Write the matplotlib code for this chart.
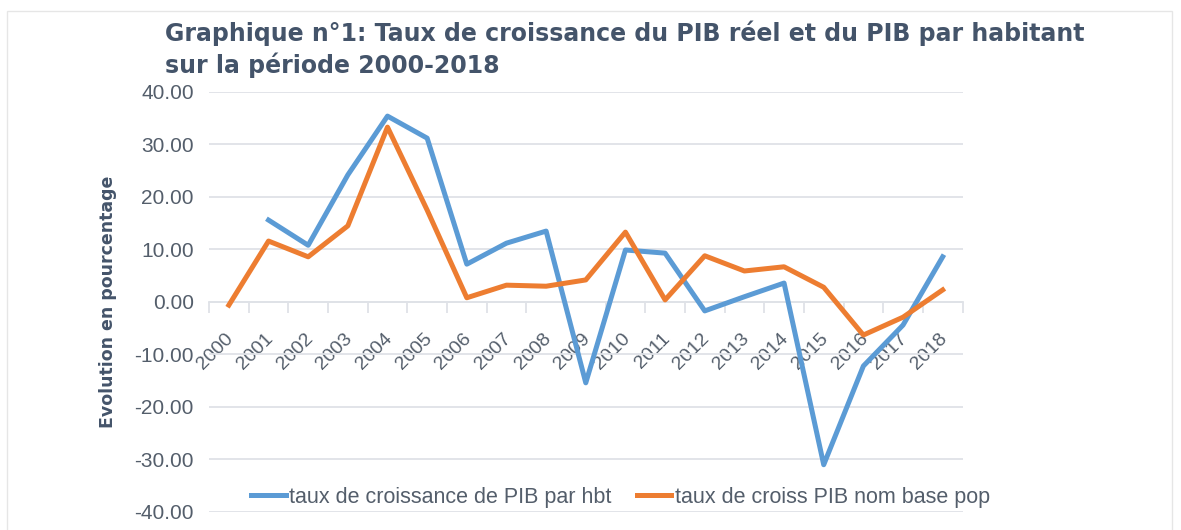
import matplotlib.pyplot as plt
import matplotlib.transforms as mtransforms
from matplotlib.patches import Rectangle

# data
years = [str(y) for y in range(2000, 2019)]
pib_hbt = [None, 15.6, 10.8, 24.2, 35.4, 31.2, 7.2, 11.2, 13.5, -15.4,
           9.9, 9.3, -1.7, 1.0, 3.6, -31.0, -12.2, -4.4, 8.6]
pib_nom = [-0.6, 11.6, 8.6, 14.5, 33.3, 17.5, 0.8, 3.2, 3.0, 4.2,
           13.3, 0.4, 8.8, 5.9, 6.7, 2.8, -6.3, -2.9, 2.3]
yticks = [-40, -30, -20, -10, 0, 10, 20, 30, 40]

blue = '#5B9BD5'
orange = '#ED7D31'
text_col = '#44546A'
tick_col = '#545E6B'
grid_col = '#DFE2E7'
sans = ['Liberation Sans', 'DejaVu Sans']

fig = plt.figure(figsize=(11.81, 5.30), dpi=100)
fig.patches.append(Rectangle((0.006, -0.01), 0.986, 0.99, transform=fig.transFigure,
                             fill=False, edgecolor='#E6E6E6', linewidth=1))
ax = fig.add_axes([0.177, 0.034, 0.638, 0.7925])

x = list(range(len(years)))
xb = [i for i, v in zip(x, pib_hbt) if v is not None]
yb = [v for v in pib_hbt if v is not None]
ax.plot(xb, yb, color=blue, linewidth=3.6, solid_joinstyle='round',
        label='taux de croissance de PIB par hbt', zorder=3)
ax.plot(x, pib_nom, color=orange, linewidth=3.6, solid_joinstyle='round',
        label='taux de croiss PIB nom base pop', zorder=3)

ax.set_xlim(-0.5, len(years) - 0.5)
ax.set_ylim(-40, 40)
ax.set_yticks(yticks)
ax.set_yticklabels(['%.2f' % v for v in yticks], family=sans, fontsize=15, color=tick_col)
ax.tick_params(axis='y', length=0, pad=11)
ax.grid(axis='y', color=grid_col, linewidth=1.3, zorder=0)

for s in ['top', 'right', 'left']:
    ax.spines[s].set_visible(False)
ax.spines['bottom'].set_position(('data', 0))
ax.spines['bottom'].set_color(grid_col)
ax.spines['bottom'].set_linewidth(1.3)

ax.set_xticks(x)
ax.set_xticklabels(years, rotation=45, ha='right', va='top',
                   family=sans, fontsize=14, color=tick_col)
ax.set_xticks([i - 0.5 for i in range(len(years) + 1)], minor=True)
ax.tick_params(axis='x', which='major', length=0, pad=20)
ax.tick_params(axis='x', which='minor', length=8, color=grid_col, width=1.3)
offset = mtransforms.ScaledTranslation(8 / 100, 0, fig.dpi_scale_trans)
for lbl in ax.get_xticklabels():
    lbl.set_transform(lbl.get_transform() + offset)

ax.set_ylabel('Evolution en pourcentage', fontsize=12.5, fontweight='bold', color=text_col)
ax.yaxis.set_label_coords(-0.122, 0.5)

fig.text(0.14, 1 - 20 / 530, 'Graphique n°1: Taux de croissance du PIB réel et du PIB par habitant\n'
         'sur la période 2000-2018', fontsize=17, fontweight='bold', color=text_col,
         ha='left', va='top', linespacing=1.35)

ax.legend(loc='center', bbox_to_anchor=(0.546, 0.035), ncol=2, frameon=False,
          prop={'family': sans, 'size': 15.5}, handlelength=1.6, columnspacing=1.2,
          handletextpad=0.15, labelcolor=tick_col)

fig.savefig('out.png', dpi=100)
